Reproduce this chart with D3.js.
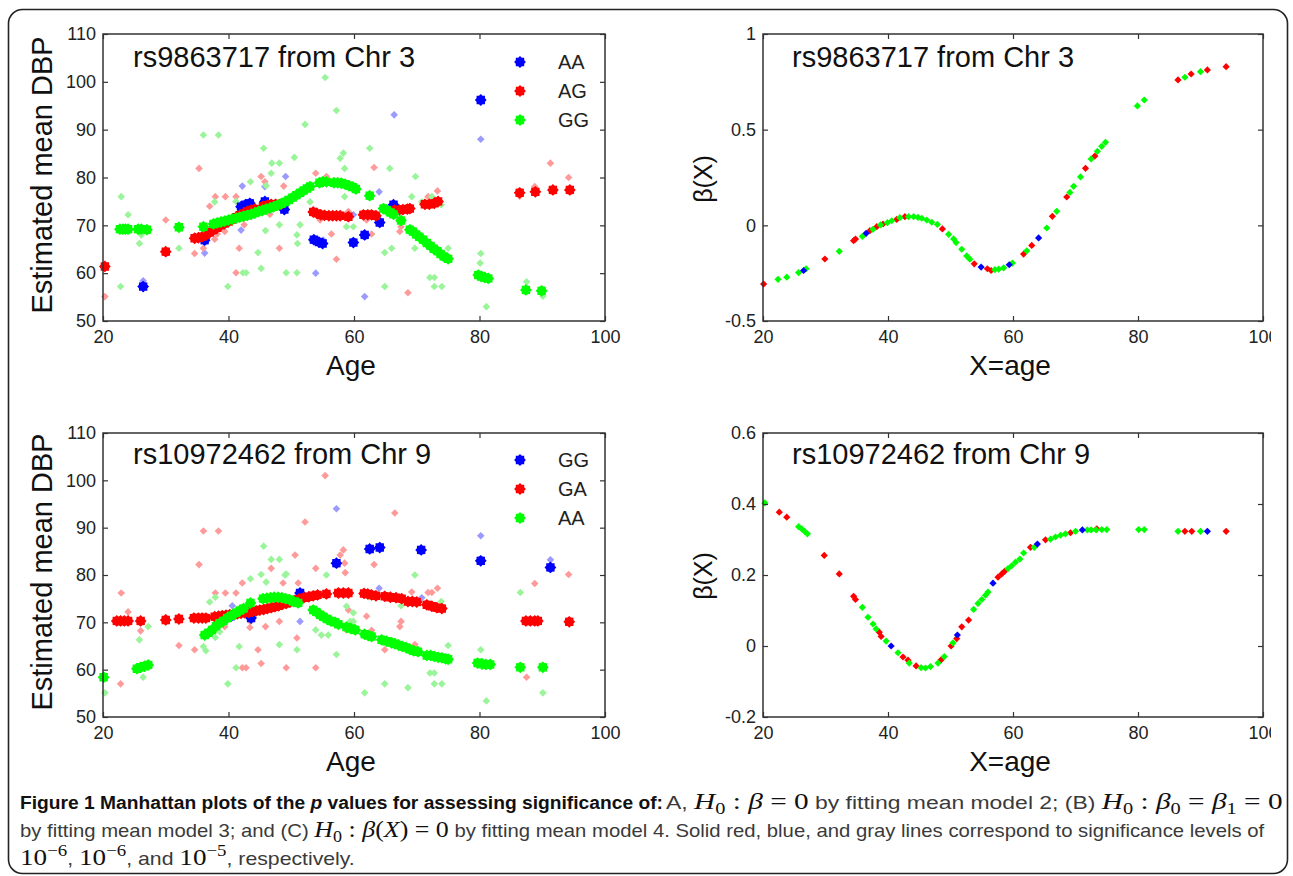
<!DOCTYPE html>
<html>
<head>
<meta charset="utf-8">
<script src="https://cdn.jsdelivr.net/npm/d3@7"></script>
<style>
body { margin: 0; background: #fff; }
svg text { font-family: "Liberation Sans", Arial, sans-serif; }
</style>
</head>
<body>
<svg id="fig" width="1293" height="876"></svg>
<script>
//////////////////////////////////////////////////////////////////////////////
// Data: [age, value]

var ageTicks   = [20, 40, 60, 80, 100];
var dbpTicks   = [50, 60, 70, 80, 90, 100, 110];
var beta3Ticks = [-0.5, 0, 0.5, 1];
var beta9Ticks = [-0.2, 0, 0.2, 0.4, 0.6];

var rs3Geno = ["AA", "AG", "GG"];
var rs9Geno = ["GG", "GA", "AA"];

// rs9863717 -- estimated means (solid)
var rs3MeanAA = [[26.4,57.2],[36.2,66.9],[42.0,73.9],[42.7,74.3],[43.4,74.6],[45.8,75.0],[48.9,73.3],
  [53.6,67.0],[54.4,66.5],[55.0,66.2],[59.9,66.4],[61.7,68.0],[64.1,70.6],[66.3,74.3],[80.2,96.2]];
var rs3MeanAG = [[20.3,61.4],[30.0,64.5],[34.6,67.3],[35.2,67.4],[35.8,67.6],[36.4,68.0],[37.0,68.5],
  [37.6,69.0],[38.2,69.5],[38.8,70.0],[39.4,70.4],[40.0,70.8],[40.6,71.2],[41.2,71.7],[41.8,72.1],
  [42.4,72.5],[43.0,72.9],[43.6,73.2],[44.2,73.4],[45.5,74.0],[46.2,74.2],[46.8,74.4],[47.5,74.4],
  [48.1,74.3],[53.5,72.8],[54.1,72.5],[54.7,72.2],[55.3,72.1],[56.0,72.0],[56.6,72.0],[57.2,72.0],
  [57.8,72.0],[59.1,71.8],[61.5,72.2],[62.2,72.2],[62.8,72.2],[63.5,72.0],[66.5,73.2],[67.2,73.2],
  [67.8,73.3],[68.5,73.4],[68.9,73.5],[71.3,74.4],[72.0,74.4],[72.8,74.6],[73.4,75.0],[86.4,76.8],
  [88.9,77.0],[91.7,77.4],[94.4,77.4]];
var rs3MeanGG = [[22.7,69.2],[23.2,69.2],[23.6,69.2],[24.0,69.2],[25.6,69.2],[26.1,69.2],[27.0,69.1],
  [32.1,69.6],[36.0,69.7],[37.6,70.3],[38.2,70.5],[38.8,70.7],[39.4,70.9],[40.0,71.1],[40.6,71.3],
  [41.2,71.5],[41.8,71.7],[42.4,71.9],[43.0,72.1],[43.6,72.3],[44.2,72.6],[44.8,72.9],[45.4,73.1],
  [46.0,73.4],[46.6,73.6],[47.2,73.9],[47.8,74.2],[48.4,74.5],[49.0,74.9],[49.6,75.3],[50.2,75.8],
  [50.8,76.3],[51.4,76.8],[52.0,77.3],[52.5,77.7],[53.0,78.1],[54.5,78.9],[55.0,79.1],[55.6,79.1],
  [56.8,78.9],[57.4,78.9],[58.0,78.8],[58.6,78.6],[59.2,78.3],[59.8,78.0],[60.3,77.6],[62.5,76.2],
  [64.7,73.5],[65.2,73.2],[65.8,72.7],[66.3,72.3],[67.5,71.0],[68.9,69.1],[69.4,68.7],[69.9,68.1],
  [70.4,67.6],[71.0,67.0],[71.6,66.3],[72.2,65.7],[72.7,65.1],[73.3,64.6],[73.8,64.0],[74.3,63.5],
  [75.0,63.0],[79.8,59.6],[80.3,59.3],[80.8,59.1],[81.4,58.9],[87.4,56.5],[89.9,56.3]];

// rs9863717 -- observations (faded)
var rs3ObsAA = [[26.4,58.4],[36.2,64.2],[42.2,78.2],[42.0,69.0],[45.8,78.1],[49.1,80.2],[53.9,60.0],
  [55.1,66.9],[59.9,72.2],[61.7,55.1],[64.0,77.0],[66.4,93.1],[80.2,88.0]];
var rs3ObsAG = [[20.3,55.1],[30.0,71.1],[34.6,64.1],[35.3,81.9],[36.0,65.2],[37.0,74.0],[37.9,76.0],
  [37.8,67.1],[38.2,68.2],[39.5,76.0],[39.4,68.7],[41.2,76.0],[41.7,65.2],[41.2,60.1],[42.5,70.1],
  [45.2,80.2],[45.8,79.1],[46.6,72.3],[48.1,65.2],[48.8,78.2],[49.5,75.3],[53.9,80.9],[55.6,80.2],
  [54.6,71.1],[56.4,68.2],[57.2,62.9],[59.1,72.9],[63.2,82.1],[62.8,68.2],[62.0,71.1],[67.3,68.7],
  [67.5,69.7],[68.6,55.9],[71.8,76.0],[73.3,77.2],[86.4,76.1],[88.8,78.1],[91.3,83.0],[94.2,80.0]];
var rs3ObsGG = [[22.8,57.2],[22.9,76.0],[24.0,72.2],[25.8,66.2],[26.1,68.0],[27.2,69.0],[32.1,65.2],
  [36.0,88.9],[38.4,88.9],[37.8,74.9],[39.9,57.2],[42.3,60.1],[42.8,60.1],[41.2,75.0],[43.5,79.1],
  [45.6,86.1],[46.0,78.3],[44.7,64.3],[45.2,61.0],[45.9,68.9],[46.9,83.0],[48.1,83.0],[46.8,80.9],
  [48.1,70.1],[49.2,60.1],[50.5,84.2],[52.2,91.1],[50.9,60.1],[51.4,70.1],[50.9,68.0],[53.0,74.9],
  [55.4,100.9],[57.2,94.0],[57.8,84.0],[58.3,85.1],[58.5,81.9],[51.0,66.2],[58.8,69.7],[59.9,69.7],
  [58.5,76.0],[62.5,86.1],[64.9,64.3],[64.9,57.2],[65.7,81.9],[66.0,65.2],[69.8,80.2],[69.2,76.0],
  [69.7,65.2],[70.8,74.9],[72.4,76.0],[73.9,74.3],[72.1,59.1],[72.8,59.1],[72.8,57.2],[74.0,57.2],
  [75.0,65.2],[80.2,64.1],[80.1,62.1],[81.1,53.0],[87.5,58.2],[90.1,55.2]];

// rs9863717 -- beta(X)
var rs3BetaAA = [[26.5,-0.236],[36.5,-0.042],[54.9,-0.218],[59.4,-0.206],[64.1,-0.066]];
var rs3BetaAG = [[20.1,-0.307],[29.9,-0.176],[34.5,-0.080],[34.8,-0.072],[37.1,-0.028],[38.2,-0.007],
  [39.2,0.007],[41.4,0.031],[42.7,0.045],[48.7,-0.019],[53.8,-0.201],[55.9,-0.227],[56.5,-0.236],
  [61.7,-0.150],[63.0,-0.105],[66.3,0.047],[68.6,0.148],[71.6,0.298],[73.1,0.362],[86.4,0.760],
  [88.5,0.791],[91.1,0.812],[94.1,0.829]];
var rs3BetaGG = [[22.4,-0.282],[23.8,-0.271],[25.7,-0.247],[26.9,-0.227],[32.2,-0.136],[35.9,-0.058],
  [37.6,-0.021],[38.8,0.002],[39.9,0.014],[40.6,0.024],[41.9,0.040],[43.3,0.045],[44.1,0.045],
  [44.8,0.042],[45.4,0.037],[46.2,0.028],[47.0,0.016],[47.9,0.005],[49.7,-0.047],[50.5,-0.071],
  [50.9,-0.090],[51.8,-0.125],[52.6,-0.160],[53.1,-0.177],[57.1,-0.232],[57.7,-0.229],[58.5,-0.222],
  [59.9,-0.197],[62.2,-0.133],[65.4,-0.014],[67.0,0.073],[69.1,0.172],[69.7,0.204],[70.8,0.253],
  [72.5,0.347],[73.5,0.387],[74.2,0.413],[74.8,0.434],[79.9,0.624],[81.0,0.655],[87.5,0.774],[90.0,0.803]];

// rs10972462 -- estimated means (solid)
var rs9MeanGG = [[40.4,71.3],[43.6,70.9],[51.4,76.2],[57.2,82.5],[62.5,85.5],[64.1,85.8],[70.7,85.3],
  [80.2,83.0],[91.3,81.6]];
var rs9MeanGA = [[22.2,70.3],[22.8,70.3],[23.4,70.3],[24.0,70.3],[26.0,70.3],[30.0,70.5],[32.1,70.7],
  [34.5,70.9],[35.2,70.9],[35.8,70.9],[36.4,70.9],[37.8,71.2],[38.4,71.3],[39.0,71.4],[39.6,71.5],
  [40.2,71.6],[40.8,71.7],[41.4,71.8],[42.0,71.9],[42.6,72.0],[43.2,72.1],[43.8,72.3],[44.4,72.4],
  [45.0,72.6],[45.6,72.7],[46.2,72.9],[46.8,73.1],[47.4,73.3],[48.0,73.5],[48.6,73.8],[49.2,74.0],
  [49.8,74.3],[50.5,74.6],[51.2,74.9],[52.0,75.2],[52.8,75.4],[53.5,75.6],[54.2,75.8],[55.6,76.0],
  [57.5,76.2],[58.3,76.2],[59.1,76.2],[61.6,76.1],[62.2,76.0],[62.8,75.8],[63.5,75.6],[64.9,75.5],
  [65.8,75.3],[66.7,75.2],[67.6,75.0],[68.6,74.4],[69.3,74.4],[70.0,74.3],[71.6,73.7],[72.4,73.4],
  [73.2,73.1],[74.0,72.9],[87.4,70.3],[88.1,70.3],[88.8,70.3],[89.3,70.3],[94.3,70.1]];
var rs9MeanAA = [[20.1,58.4],[25.4,60.2],[26.0,60.5],[26.6,60.7],[27.2,61.0],[36.2,67.3],[36.8,67.8],
  [37.4,68.4],[38.0,69.2],[38.6,69.8],[39.2,70.3],[39.8,70.9],[40.4,71.4],[41.2,72.0],[41.8,72.5],
  [42.4,72.9],[43.5,74.1],[45.5,75.0],[46.1,75.1],[46.7,75.2],[47.3,75.3],[47.9,75.3],[48.5,75.2],
  [49.1,75.0],[49.7,74.8],[50.4,74.4],[51.1,74.1],[53.5,72.6],[54.0,72.2],[54.6,71.6],[55.1,71.2],
  [55.7,70.7],[56.3,70.3],[57.0,70.0],[57.5,69.6],[58.8,69.0],[59.5,68.7],[60.2,68.4],[61.7,67.5],
  [62.3,67.2],[62.8,67.0],[64.4,66.3],[65.2,66.0],[66.0,65.7],[66.5,65.5],[67.1,65.2],[67.7,64.9],
  [68.3,64.7],[68.9,64.3],[69.5,64.0],[70.2,63.8],[71.6,63.0],[72.2,63.0],[72.8,62.8],[73.4,62.6],
  [74.0,62.5],[74.6,62.3],[75.0,62.2],[79.7,61.4],[80.4,61.2],[81.0,61.1],[81.7,61.1],[86.5,60.5],
  [90.1,60.5]];

// rs10972462 -- observations (faded)
var rs9ObsGG = [[40.6,73.5],[51.4,70.2],[57.2,94.0],[62.7,85.5],[64.0,77.2],[70.8,75.2],[80.2,88.3],[91.3,83.2]];
var rs9ObsGA = [[22.8,57.0],[22.9,76.2],[24.0,72.2],[26.0,68.2],[30.0,71.0],[32.1,65.1],[34.6,64.2],
  [35.3,82.2],[36.0,89.3],[38.4,89.3],[37.9,76.2],[39.5,76.2],[39.4,69.1],[41.2,76.2],[42.2,60.4],
  [42.8,60.4],[42.2,78.3],[43.4,68.9],[43.5,70.2],[45.2,61.3],[44.7,64.2],[45.9,69.1],[46.8,81.4],
  [48.7,78.3],[49.2,60.4],[48.1,70.2],[50.9,66.7],[50.6,84.2],[52.2,91.2],[51.1,78.3],[53.9,81.4],
  [53.9,60.4],[55.4,101.0],[57.8,84.2],[58.3,85.3],[58.5,82.5],[58.6,80.5],[59.1,72.6],[58.8,68.4],
  [62.0,71.3],[62.8,68.3],[63.2,82.2],[64.9,64.2],[66.5,93.1],[67.5,70.2],[67.3,69.1],[69.2,76.4],
  [69.7,65.3],[71.8,76.3],[72.4,76.3],[73.3,77.2],[88.8,78.2],[87.5,58.4],[94.2,80.1]];
var rs9ObsAA = [[20.3,55.1],[25.8,66.3],[27.2,69.1],[26.4,58.4],[36.0,64.9],[36.4,64.0],[37.0,74.3],
  [37.9,75.3],[38.6,68.0],[37.9,66.8],[39.9,57.0],[41.7,64.9],[41.2,60.4],[43.5,79.2],[45.6,86.1],
  [45.2,80.1],[46.0,78.5],[46.8,83.3],[48.1,83.3],[49.2,80.2],[48.1,65.3],[50.9,64.2],[49.0,80.0],
  [53.0,75.1],[53.9,68.4],[54.6,71.0],[54.8,67.3],[55.9,67.3],[55.6,80.0],[57.2,63.2],[58.8,73.4],
  [59.9,72.0],[59.4,70.2],[59.9,70.2],[61.7,55.1],[62.3,75.4],[64.9,57.0],[66.0,65.1],[67.5,73.5],
  [68.6,56.2],[69.7,80.0],[73.9,74.4],[72.1,59.3],[72.8,59.3],[72.8,57.0],[74.0,57.0],[75.0,65.1],
  [80.2,64.2],[80.3,61.8],[81.1,53.4],[86.5,76.3],[90.1,55.1]];

// rs10972462 -- beta(X)
var rs9BetaGG = [[40.5,0.000],[51.1,0.031],[56.8,0.177],[63.9,0.287],[71.1,0.327],[91.1,0.323]];
var rs9BetaGA = [[22.6,0.377],[23.8,0.363],[29.8,0.255],[32.2,0.203],[34.5,0.140],[34.8,0.131],
  [38.6,0.039],[38.9,0.027],[42.4,-0.031],[43.2,-0.040],[44.5,-0.056],[48.5,-0.039],[50.1,0.000],
  [51.0,0.021],[51.8,0.054],[52.9,0.073],[57.6,0.194],[58.2,0.203],[58.7,0.211],[62.8,0.278],
  [65.2,0.299],[69.2,0.319],[73.4,0.330],[87.5,0.323],[88.6,0.323],[94.1,0.323]];
var rs9BetaAA = [[20.3,0.403],[25.7,0.336],[26.2,0.330],[26.7,0.322],[27.1,0.316],[35.9,0.109],
  [36.8,0.081],[37.6,0.062],[38.1,0.048],[39.7,0.014],[41.6,-0.019],[43.4,-0.048],[45.3,-0.061],
  [46.0,-0.062],[46.8,-0.058],[48.0,-0.048],[49.0,-0.030],[50.4,0.009],[53.7,0.103],[54.4,0.120],
  [55.0,0.131],[55.6,0.143],[56.0,0.152],[59.2,0.218],[59.8,0.226],[60.4,0.236],[61.1,0.245],
  [61.7,0.262],[63.4,0.278],[66.0,0.301],[66.8,0.307],[67.6,0.312],[68.4,0.316],[70.0,0.323],
  [71.9,0.327],[72.5,0.327],[73.3,0.327],[74.2,0.328],[75.0,0.328],[80.1,0.328],[81.0,0.328],
  [86.4,0.323],[90.0,0.323]];

//////////////////////////////////////////////////////////////////////////////
// Styles and layout

var solidColors = ["#0000ff", "#ff0000", "#00ff00"];
var fadedColors = ["#9a9aff", "#ff9a9a", "#9af59a"];

var svg = d3.select("#fig");

svg.append("rect")
    .attr("x", 8.5).attr("y", 9.5)
    .attr("width", 1279).attr("height", 864)
    .attr("rx", 14)
    .attr("fill", "none")
    .attr("stroke", "#222")
    .attr("stroke-width", 1.6);

var panels = [
    { left: 103, right: 605, top: 34, bottom: 321, yDomain: [50, 110], yTicks: dbpTicks,
      title: "rs9863717 from Chr 3", titleX: 133, titleY: 67, xlab: "Age", ylab: "Estimated mean DBP",
      ylabX: 52, ylabY: 175, ylabSize: 29, kind: "mean", geno: rs3Geno, legendY: 62,
      obs: [rs3ObsAA, rs3ObsAG, rs3ObsGG], sets: [rs3MeanAA, rs3MeanAG, rs3MeanGG] },
    { left: 763, right: 1263, top: 34, bottom: 321, yDomain: [-0.5, 1], yTicks: beta3Ticks,
      title: "rs9863717 from Chr 3", titleX: 792, titleY: 67, xlab: "X=age", ylab: "\u03b2(X)",
      ylabX: 712, ylabY: 179, ylabSize: 25, kind: "beta",
      sets: [rs3BetaAA, rs3BetaAG, rs3BetaGG] },
    { left: 103, right: 605, top: 433, bottom: 717, yDomain: [50, 110], yTicks: dbpTicks,
      title: "rs10972462 from Chr 9", titleX: 133, titleY: 464, xlab: "Age", ylab: "Estimated mean DBP",
      ylabX: 52, ylabY: 572, ylabSize: 29, kind: "mean", geno: rs9Geno, legendY: 460,
      obs: [rs9ObsGG, rs9ObsGA, rs9ObsAA], sets: [rs9MeanGG, rs9MeanGA, rs9MeanAA] },
    { left: 763, right: 1263, top: 433, bottom: 717, yDomain: [-0.2, 0.6], yTicks: beta9Ticks,
      title: "rs10972462 from Chr 9", titleX: 792, titleY: 464, xlab: "X=age", ylab: "\u03b2(X)",
      ylabX: 712, ylabY: 576, ylabSize: 25, kind: "beta",
      sets: [rs9BetaGG, rs9BetaGA, rs9BetaAA] }
];

// filled "o" with "*" on top: a jagged disc
function blobPath() {
    var pts = [];
    for (var i = 0; i < 16; i++) {
        var a = i * Math.PI / 8 - Math.PI / 2;
        var r = (i % 2 === 0) ? 5.9 : 4.6;
        pts.push([r * Math.cos(a), r * Math.sin(a)]);
    }
    return "M" + pts.join("L") + "Z";
}

function diamondPath(r) {
    return "M0," + (-r) + "L" + r + ",0L0," + r + "L" + (-r) + ",0Z";
}

var defs = svg.append("defs");
defs.append("clipPath").attr("id", "clipRight")
    .append("rect").attr("x", 0).attr("y", 0).attr("width", 1271).attr("height", 876);

panels.forEach(function(p) {
    var x = d3.scaleLinear().domain([20, 100]).range([p.left, p.right]);
    var y = d3.scaleLinear().domain(p.yDomain).range([p.bottom, p.top]);
    var g = svg.append("g");

    // observations first
    if (p.obs) {
        p.obs.forEach(function(set, k) {
            g.append("g").selectAll("path")
                .data(set)
                .enter()
                .append("path")
                .attr("transform", function(d) { return "translate(" + x(d[0]) + "," + y(d[1]) + ")"; })
                .attr("d", diamondPath(3.8))
                .attr("fill", fadedColors[k]);
        });
    }

    var order = p.kind === "mean" ? [0, 1, 2] : [1, 2, 0];
    order.forEach(function(k) {
        g.append("g").selectAll("path")
            .data(p.sets[k])
            .enter()
            .append("path")
            .attr("transform", function(d) { return "translate(" + x(d[0]) + "," + y(d[1]) + ")"; })
            .attr("d", p.kind === "mean" ? blobPath() : diamondPath(3.6))
            .attr("fill", solidColors[k]);
    });

    // axes box + inward ticks
    var fmt = function(d) { return String(d); };
    var wrapB = g.append("g");
    if (p.kind === "beta") wrapB.attr("clip-path", "url(#clipRight)");
    var axB = wrapB.append("g")
        .attr("transform", "translate(0," + p.bottom + ")")
        .call(d3.axisBottom(x).tickValues(ageTicks).tickFormat(fmt).tickSizeInner(-5).tickSizeOuter(0).tickPadding(9));
    var axT = g.append("g")
        .attr("transform", "translate(0," + p.top + ")")
        .call(d3.axisTop(x).tickValues(ageTicks).tickFormat("").tickSizeInner(-5).tickSizeOuter(0));
    var axL = g.append("g")
        .attr("transform", "translate(" + p.left + ",0)")
        .call(d3.axisLeft(y).tickValues(p.yTicks).tickFormat(fmt).tickSizeInner(-5).tickSizeOuter(0).tickPadding(7));
    var axR = g.append("g")
        .attr("transform", "translate(" + p.right + ",0)")
        .call(d3.axisRight(y).tickValues(p.yTicks).tickFormat("").tickSizeInner(-5).tickSizeOuter(0));

    [axB, axT, axL, axR].forEach(function(a) {
        a.select(".domain").remove();
        a.selectAll("line").attr("stroke", "#333").attr("stroke-width", 1.2);
        a.selectAll("text")
            .attr("fill", "#222")
            .style("font-size", "18px")
            .style("font-family", "\"Liberation Sans\", Arial, sans-serif");
    });

    g.append("rect")
        .attr("x", p.left).attr("y", p.top)
        .attr("width", p.right - p.left).attr("height", p.bottom - p.top)
        .attr("fill", "none")
        .attr("stroke", "#333")
        .attr("stroke-width", 1.5);

    g.append("text")
        .attr("x", p.titleX).attr("y", p.titleY)
        .style("font-size", "29px")
        .attr("fill", "#111")
        .text(p.title);

    g.append("text")
        .attr("x", (p.left + p.right) / 2 - 3).attr("y", p.bottom + 54)
        .attr("text-anchor", "middle")
        .style("font-size", "28px")
        .attr("fill", "#111")
        .text(p.xlab);

    g.append("text")
        .attr("transform", "translate(" + p.ylabX + "," + p.ylabY + ") rotate(-90)")
        .attr("text-anchor", "middle")
        .style("font-size", p.ylabSize + "px")
        .attr("fill", "#111")
        .text(p.ylab);

    if (p.geno) {
        var lg = g.append("g").selectAll("g")
            .data(p.geno)
            .enter()
            .append("g")
            .attr("transform", function(d, i) { return "translate(520," + (p.legendY + i * 29) + ")"; });
        lg.append("path")
            .attr("d", blobPath())
            .attr("fill", function(d, i) { return solidColors[i]; });
        lg.append("text")
            .attr("x", 38).attr("y", 7)
            .style("font-size", "20px")
            .attr("fill", "#222")
            .text(function(d) { return d; });
    }
});

//////////////////////////////////////////////////////////////////////////////
// Caption: each run is squeezed to the width it takes in the figure

var capFonts = {
    b:   { family: "\"Liberation Sans\", sans-serif", weight: "bold", style: "normal", size: 19, fill: "#111" },
    bi:  { family: "\"Liberation Sans\", sans-serif", weight: "bold", style: "italic", size: 19, fill: "#111" },
    n:   { family: "\"Liberation Sans\", sans-serif", weight: "normal", style: "normal", size: 18, fill: "#3a3a3a" },
    mi:  { family: "\"Liberation Serif\", serif", weight: "normal", style: "italic", size: 23, fill: "#111" },
    mn:  { family: "\"Liberation Serif\", serif", weight: "normal", style: "normal", size: 23, fill: "#111" },
    sub: { family: "\"Liberation Serif\", serif", weight: "normal", style: "normal", size: 16, fill: "#111", dy: 5 },
    sup: { family: "\"Liberation Serif\", serif", weight: "normal", style: "normal", size: 16, fill: "#111", dy: -9 }
};

var capRuns = [
    { y: 809, x0: 20, x1: 663, parts: [
        ["b", "Figure 1 Manhattan plots of the "], ["bi", "p"], ["b", " values for assessing significance of:"]] },
    { y: 809, x0: 666, x1: 1283, parts: [
        ["n", "A, "], ["mi", "H"], ["sub", "0"], ["mn", " : "], ["mi", "\u03b2"], ["mn", " = 0"],
        ["n", " by fitting mean model 2; (B) "], ["mi", "H"], ["sub", "0"], ["mn", " : "], ["mi", "\u03b2"],
        ["sub", "0"], ["mn", " = "], ["mi", "\u03b2"], ["sub", "1"], ["mn", " = 0"]] },
    { y: 837, x0: 20, x1: 1265, parts: [
        ["n", "by fitting mean model 3; and (C) "], ["mi", "H"], ["sub", "0"], ["mn", " : "], ["mi", "\u03b2"],
        ["mn", "("], ["mi", "X"], ["mn", ") = 0"],
        ["n", " by fitting mean model 4. Solid red, blue, and gray lines correspond to significance levels of"]] },
    { y: 865, x0: 20, x1: 355, parts: [
        ["mn", "10"], ["sup", "\u22126"], ["n", ", "], ["mn", "10"], ["sup", "\u22126"], ["n", ", and "],
        ["mn", "10"], ["sup", "\u22125"], ["n", ", respectively."]] }
];

capRuns.forEach(function(run) {
    var t = svg.append("text").attr("x", 0).attr("y", 0).style("white-space", "pre");
    var shift = 0;
    run.parts.forEach(function(pt) {
        var f = capFonts[pt[0]];
        var want = f.dy || 0;
        t.append("tspan")
            .style("font-family", f.family)
            .style("font-weight", f.weight)
            .style("font-style", f.style)
            .style("font-size", f.size + "px")
            .attr("fill", f.fill)
            .attr("dy", want - shift)
            .text(pt[1]);
        shift = want;
    });
    var w = t.node().getComputedTextLength();
    t.attr("transform", "translate(" + run.x0 + "," + run.y + ") scale(" + ((run.x1 - run.x0) / w) + ",1)");
});
</script>
</body>
</html>
